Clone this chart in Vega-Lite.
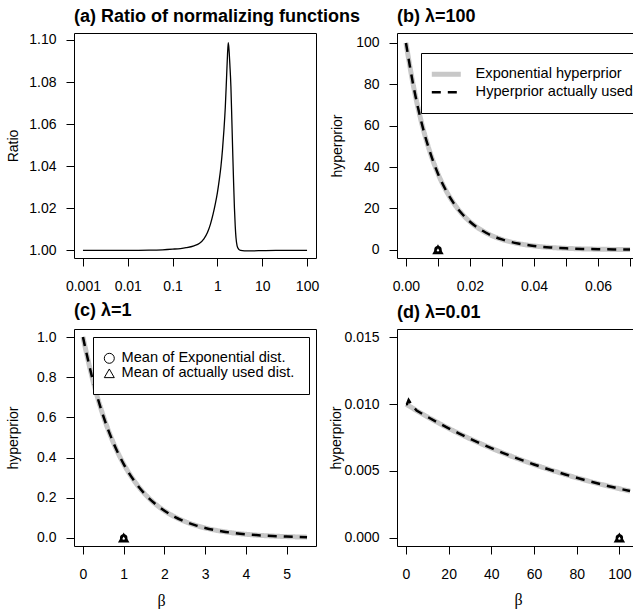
{
  "$schema": "https://vega.github.io/schema/vega-lite/v6.json",
  "autosize": {"type": "pad"},
  "padding": {"left": 5, "top": 7, "right": 0, "bottom": 0},
  "background": "white",
  "columns": 2,
  "spacing": {"row": 71, "column": 81},
  "bounds": "flush",
  "resolve": {
    "scale": {"color": "independent", "strokeDash": "independent", "shape": "independent"},
    "legend": {"color": "independent", "strokeDash": "independent", "shape": "independent"}
  },
  "datasets": {
    "ratio": [
      {"beta": 0.001, "ratio": 1.0}, {"beta": 0.003, "ratio": 1.0}, {"beta": 0.01, "ratio": 1.0},
      {"beta": 0.03, "ratio": 1.0001}, {"beta": 0.06, "ratio": 1.0003}, {"beta": 0.1, "ratio": 1.0006},
      {"beta": 0.15, "ratio": 1.0009}, {"beta": 0.2, "ratio": 1.0013}, {"beta": 0.3, "ratio": 1.0022},
      {"beta": 0.4, "ratio": 1.0034}, {"beta": 0.5, "ratio": 1.0055}, {"beta": 0.6, "ratio": 1.0085},
      {"beta": 0.7, "ratio": 1.0125}, {"beta": 0.8, "ratio": 1.0172}, {"beta": 0.9, "ratio": 1.0222},
      {"beta": 1.0, "ratio": 1.0275}, {"beta": 1.1, "ratio": 1.0335}, {"beta": 1.2, "ratio": 1.04},
      {"beta": 1.3, "ratio": 1.048}, {"beta": 1.4, "ratio": 1.0573}, {"beta": 1.5, "ratio": 1.068},
      {"beta": 1.6, "ratio": 1.082}, {"beta": 1.68, "ratio": 1.093}, {"beta": 1.75, "ratio": 1.0987},
      {"beta": 1.82, "ratio": 1.095}, {"beta": 1.9, "ratio": 1.088}, {"beta": 2.0, "ratio": 1.078},
      {"beta": 2.1, "ratio": 1.062}, {"beta": 2.2, "ratio": 1.046}, {"beta": 2.3, "ratio": 1.032},
      {"beta": 2.4, "ratio": 1.02}, {"beta": 2.5, "ratio": 1.0115}, {"beta": 2.6, "ratio": 1.006},
      {"beta": 2.75, "ratio": 1.0022}, {"beta": 3.0, "ratio": 1.0005}, {"beta": 3.3, "ratio": 1.0},
      {"beta": 4.0, "ratio": 0.9998}, {"beta": 6.0, "ratio": 0.9998}, {"beta": 10, "ratio": 0.9999},
      {"beta": 20, "ratio": 1.0}, {"beta": 50, "ratio": 1.0}, {"beta": 100, "ratio": 1.0}
    ],
    "b_lines": [
      {"beta": 0, "hyperprior": 100, "series": "Exponential hyperprior"},
      {"beta": 0.0025, "hyperprior": 77.88, "series": "Exponential hyperprior"},
      {"beta": 0.005, "hyperprior": 60.65, "series": "Exponential hyperprior"},
      {"beta": 0.0075, "hyperprior": 47.24, "series": "Exponential hyperprior"},
      {"beta": 0.01, "hyperprior": 36.79, "series": "Exponential hyperprior"},
      {"beta": 0.0125, "hyperprior": 28.65, "series": "Exponential hyperprior"},
      {"beta": 0.015, "hyperprior": 22.31, "series": "Exponential hyperprior"},
      {"beta": 0.0175, "hyperprior": 17.38, "series": "Exponential hyperprior"},
      {"beta": 0.02, "hyperprior": 13.53, "series": "Exponential hyperprior"},
      {"beta": 0.025, "hyperprior": 8.21, "series": "Exponential hyperprior"},
      {"beta": 0.03, "hyperprior": 4.98, "series": "Exponential hyperprior"},
      {"beta": 0.035, "hyperprior": 3.02, "series": "Exponential hyperprior"},
      {"beta": 0.04, "hyperprior": 1.83, "series": "Exponential hyperprior"},
      {"beta": 0.045, "hyperprior": 1.11, "series": "Exponential hyperprior"},
      {"beta": 0.05, "hyperprior": 0.674, "series": "Exponential hyperprior"},
      {"beta": 0.055, "hyperprior": 0.409, "series": "Exponential hyperprior"},
      {"beta": 0.06, "hyperprior": 0.248, "series": "Exponential hyperprior"},
      {"beta": 0.065, "hyperprior": 0.15, "series": "Exponential hyperprior"},
      {"beta": 0.07, "hyperprior": 0.091, "series": "Exponential hyperprior"},
      {"beta": 0, "hyperprior": 100, "series": "Hyperprior actually used"},
      {"beta": 0.0025, "hyperprior": 77.88, "series": "Hyperprior actually used"},
      {"beta": 0.005, "hyperprior": 60.65, "series": "Hyperprior actually used"},
      {"beta": 0.0075, "hyperprior": 47.24, "series": "Hyperprior actually used"},
      {"beta": 0.01, "hyperprior": 36.79, "series": "Hyperprior actually used"},
      {"beta": 0.0125, "hyperprior": 28.65, "series": "Hyperprior actually used"},
      {"beta": 0.015, "hyperprior": 22.31, "series": "Hyperprior actually used"},
      {"beta": 0.0175, "hyperprior": 17.38, "series": "Hyperprior actually used"},
      {"beta": 0.02, "hyperprior": 13.53, "series": "Hyperprior actually used"},
      {"beta": 0.025, "hyperprior": 8.21, "series": "Hyperprior actually used"},
      {"beta": 0.03, "hyperprior": 4.98, "series": "Hyperprior actually used"},
      {"beta": 0.035, "hyperprior": 3.02, "series": "Hyperprior actually used"},
      {"beta": 0.04, "hyperprior": 1.83, "series": "Hyperprior actually used"},
      {"beta": 0.045, "hyperprior": 1.11, "series": "Hyperprior actually used"},
      {"beta": 0.05, "hyperprior": 0.674, "series": "Hyperprior actually used"},
      {"beta": 0.055, "hyperprior": 0.409, "series": "Hyperprior actually used"},
      {"beta": 0.06, "hyperprior": 0.248, "series": "Hyperprior actually used"},
      {"beta": 0.065, "hyperprior": 0.15, "series": "Hyperprior actually used"},
      {"beta": 0.07, "hyperprior": 0.091, "series": "Hyperprior actually used"}
    ],
    "c_lines": [
      {"beta": 0, "hyperprior": 1.0, "series": "Exponential hyperprior"},
      {"beta": 0.25, "hyperprior": 0.7788, "series": "Exponential hyperprior"},
      {"beta": 0.5, "hyperprior": 0.6065, "series": "Exponential hyperprior"},
      {"beta": 0.75, "hyperprior": 0.4724, "series": "Exponential hyperprior"},
      {"beta": 1.0, "hyperprior": 0.3679, "series": "Exponential hyperprior"},
      {"beta": 1.25, "hyperprior": 0.2865, "series": "Exponential hyperprior"},
      {"beta": 1.5, "hyperprior": 0.2231, "series": "Exponential hyperprior"},
      {"beta": 1.75, "hyperprior": 0.1738, "series": "Exponential hyperprior"},
      {"beta": 2.0, "hyperprior": 0.1353, "series": "Exponential hyperprior"},
      {"beta": 2.25, "hyperprior": 0.1054, "series": "Exponential hyperprior"},
      {"beta": 2.5, "hyperprior": 0.0821, "series": "Exponential hyperprior"},
      {"beta": 2.75, "hyperprior": 0.0639, "series": "Exponential hyperprior"},
      {"beta": 3.0, "hyperprior": 0.0498, "series": "Exponential hyperprior"},
      {"beta": 3.25, "hyperprior": 0.0388, "series": "Exponential hyperprior"},
      {"beta": 3.5, "hyperprior": 0.0302, "series": "Exponential hyperprior"},
      {"beta": 3.75, "hyperprior": 0.0235, "series": "Exponential hyperprior"},
      {"beta": 4.0, "hyperprior": 0.0183, "series": "Exponential hyperprior"},
      {"beta": 4.25, "hyperprior": 0.0143, "series": "Exponential hyperprior"},
      {"beta": 4.5, "hyperprior": 0.0111, "series": "Exponential hyperprior"},
      {"beta": 4.75, "hyperprior": 0.0087, "series": "Exponential hyperprior"},
      {"beta": 5.0, "hyperprior": 0.0067, "series": "Exponential hyperprior"},
      {"beta": 5.25, "hyperprior": 0.0052, "series": "Exponential hyperprior"},
      {"beta": 5.5, "hyperprior": 0.0041, "series": "Exponential hyperprior"},
      {"beta": 0, "hyperprior": 1.0, "series": "Hyperprior actually used"},
      {"beta": 0.25, "hyperprior": 0.7788, "series": "Hyperprior actually used"},
      {"beta": 0.5, "hyperprior": 0.6065, "series": "Hyperprior actually used"},
      {"beta": 0.75, "hyperprior": 0.4724, "series": "Hyperprior actually used"},
      {"beta": 1.0, "hyperprior": 0.3679, "series": "Hyperprior actually used"},
      {"beta": 1.25, "hyperprior": 0.2865, "series": "Hyperprior actually used"},
      {"beta": 1.5, "hyperprior": 0.2231, "series": "Hyperprior actually used"},
      {"beta": 1.75, "hyperprior": 0.1738, "series": "Hyperprior actually used"},
      {"beta": 2.0, "hyperprior": 0.1353, "series": "Hyperprior actually used"},
      {"beta": 2.25, "hyperprior": 0.1054, "series": "Hyperprior actually used"},
      {"beta": 2.5, "hyperprior": 0.0821, "series": "Hyperprior actually used"},
      {"beta": 2.75, "hyperprior": 0.0639, "series": "Hyperprior actually used"},
      {"beta": 3.0, "hyperprior": 0.0498, "series": "Hyperprior actually used"},
      {"beta": 3.25, "hyperprior": 0.0388, "series": "Hyperprior actually used"},
      {"beta": 3.5, "hyperprior": 0.0302, "series": "Hyperprior actually used"},
      {"beta": 3.75, "hyperprior": 0.0235, "series": "Hyperprior actually used"},
      {"beta": 4.0, "hyperprior": 0.0183, "series": "Hyperprior actually used"},
      {"beta": 4.25, "hyperprior": 0.0143, "series": "Hyperprior actually used"},
      {"beta": 4.5, "hyperprior": 0.0111, "series": "Hyperprior actually used"},
      {"beta": 4.75, "hyperprior": 0.0087, "series": "Hyperprior actually used"},
      {"beta": 5.0, "hyperprior": 0.0067, "series": "Hyperprior actually used"},
      {"beta": 5.25, "hyperprior": 0.0052, "series": "Hyperprior actually used"},
      {"beta": 5.5, "hyperprior": 0.0041, "series": "Hyperprior actually used"}
    ],
    "d_lines": [
      {"beta": 0, "hyperprior": 0.01, "series": "Exponential hyperprior"},
      {"beta": 5, "hyperprior": 0.009512, "series": "Exponential hyperprior"},
      {"beta": 10, "hyperprior": 0.009048, "series": "Exponential hyperprior"},
      {"beta": 15, "hyperprior": 0.008607, "series": "Exponential hyperprior"},
      {"beta": 20, "hyperprior": 0.008187, "series": "Exponential hyperprior"},
      {"beta": 25, "hyperprior": 0.007788, "series": "Exponential hyperprior"},
      {"beta": 30, "hyperprior": 0.007408, "series": "Exponential hyperprior"},
      {"beta": 35, "hyperprior": 0.007047, "series": "Exponential hyperprior"},
      {"beta": 40, "hyperprior": 0.006703, "series": "Exponential hyperprior"},
      {"beta": 45, "hyperprior": 0.006376, "series": "Exponential hyperprior"},
      {"beta": 50, "hyperprior": 0.006065, "series": "Exponential hyperprior"},
      {"beta": 55, "hyperprior": 0.005769, "series": "Exponential hyperprior"},
      {"beta": 60, "hyperprior": 0.005488, "series": "Exponential hyperprior"},
      {"beta": 65, "hyperprior": 0.00522, "series": "Exponential hyperprior"},
      {"beta": 70, "hyperprior": 0.004966, "series": "Exponential hyperprior"},
      {"beta": 75, "hyperprior": 0.004724, "series": "Exponential hyperprior"},
      {"beta": 80, "hyperprior": 0.004493, "series": "Exponential hyperprior"},
      {"beta": 85, "hyperprior": 0.004274, "series": "Exponential hyperprior"},
      {"beta": 90, "hyperprior": 0.004066, "series": "Exponential hyperprior"},
      {"beta": 95, "hyperprior": 0.003867, "series": "Exponential hyperprior"},
      {"beta": 100, "hyperprior": 0.003679, "series": "Exponential hyperprior"},
      {"beta": 105, "hyperprior": 0.003499, "series": "Exponential hyperprior"},
      {"beta": 0, "hyperprior": 0.00999, "series": "Hyperprior actually used"},
      {"beta": 0.5, "hyperprior": 0.01, "series": "Hyperprior actually used"},
      {"beta": 1.25, "hyperprior": 0.0103, "series": "Hyperprior actually used"},
      {"beta": 2.5, "hyperprior": 0.00998, "series": "Hyperprior actually used"},
      {"beta": 5, "hyperprior": 0.009512, "series": "Hyperprior actually used"},
      {"beta": 10, "hyperprior": 0.009048, "series": "Hyperprior actually used"},
      {"beta": 15, "hyperprior": 0.008607, "series": "Hyperprior actually used"},
      {"beta": 20, "hyperprior": 0.008187, "series": "Hyperprior actually used"},
      {"beta": 25, "hyperprior": 0.007788, "series": "Hyperprior actually used"},
      {"beta": 30, "hyperprior": 0.007408, "series": "Hyperprior actually used"},
      {"beta": 35, "hyperprior": 0.007047, "series": "Hyperprior actually used"},
      {"beta": 40, "hyperprior": 0.006703, "series": "Hyperprior actually used"},
      {"beta": 45, "hyperprior": 0.006376, "series": "Hyperprior actually used"},
      {"beta": 50, "hyperprior": 0.006065, "series": "Hyperprior actually used"},
      {"beta": 55, "hyperprior": 0.005769, "series": "Hyperprior actually used"},
      {"beta": 60, "hyperprior": 0.005488, "series": "Hyperprior actually used"},
      {"beta": 65, "hyperprior": 0.00522, "series": "Hyperprior actually used"},
      {"beta": 70, "hyperprior": 0.004966, "series": "Hyperprior actually used"},
      {"beta": 75, "hyperprior": 0.004724, "series": "Hyperprior actually used"},
      {"beta": 80, "hyperprior": 0.004493, "series": "Hyperprior actually used"},
      {"beta": 85, "hyperprior": 0.004274, "series": "Hyperprior actually used"},
      {"beta": 90, "hyperprior": 0.004066, "series": "Hyperprior actually used"},
      {"beta": 95, "hyperprior": 0.003867, "series": "Hyperprior actually used"},
      {"beta": 100, "hyperprior": 0.003679, "series": "Hyperprior actually used"},
      {"beta": 105, "hyperprior": 0.003499, "series": "Hyperprior actually used"}
    ],
    "b_pts": [
      {"beta": 0.01, "hyperprior": 0, "stat": "Mean of Exponential dist."},
      {"beta": 0.01, "hyperprior": 0, "stat": "Mean of actually used dist."}
    ],
    "c_pts": [
      {"beta": 1, "hyperprior": 0, "stat": "Mean of Exponential dist."},
      {"beta": 1, "hyperprior": 0, "stat": "Mean of actually used dist."}
    ],
    "d_pts": [
      {"beta": 100, "hyperprior": 0, "stat": "Mean of Exponential dist."},
      {"beta": 100, "hyperprior": 0, "stat": "Mean of actually used dist."}
    ]
  },
  "concat": [
    {
      "width": 242, "height": 225,
      "title": {"text": "(a) Ratio of normalizing functions"},
      "data": {"name": "ratio"},
      "mark": {"type": "line", "color": "black", "strokeWidth": 1.3, "interpolate": "monotone"},
      "encoding": {
        "x": {"field": "beta", "type": "quantitative",
          "scale": {"type": "log", "domain": [0.000631, 158.5], "nice": false},
          "axis": {"values": [0.001, 0.01, 0.1, 1, 10, 100], "format": "~g", "title": null}},
        "y": {"field": "ratio", "type": "quantitative",
          "scale": {"domain": [0.9964, 1.1033], "nice": false, "zero": false},
          "axis": {"values": [1, 1.02, 1.04, 1.06, 1.08, 1.1], "format": ".2f", "title": "Ratio",
            "titleX": -61, "titleY": 112.5, "titleBaseline": "middle", "titleAlign": "center", "titleAngle": -90}}
      }
    },
    {
      "width": 242, "height": 225,
      "title": {"text": "(b) λ=100"},
      "encoding": {
        "x": {"field": "beta", "type": "quantitative",
          "scale": {"domain": [-0.0028, 0.0728], "nice": false, "zero": false},
          "axis": {"values": [0, 0.01, 0.02, 0.03, 0.04, 0.05, 0.06, 0.07],
            "labelExpr": "round(datum.value*100) % 2 == 0 ? format(datum.value, '.2f') : ''", "title": null}},
        "y": {"field": "hyperprior", "type": "quantitative",
          "scale": {"domain": [-4, 104.8], "nice": false, "zero": false},
          "axis": {"values": [0, 20, 40, 60, 80, 100], "title": "hyperprior",
            "titleX": -60, "titleY": 112.5, "titleBaseline": "middle", "titleAlign": "center", "titleAngle": -90}}
      },
      "layer": [
        {
          "data": {"name": "b_lines"},
          "transform": [{"filter": {"field": "series", "equal": "Exponential hyperprior"}}],
          "mark": {"type": "line", "strokeWidth": 5, "interpolate": "monotone"},
          "encoding": {
            "color": {"field": "series", "type": "nominal",
              "scale": {"domain": ["Exponential hyperprior", "Hyperprior actually used"], "range": ["#c8c8c8", "#000000"]},
              "legend": {"orient": "none", "legendX": 24, "legendY": 20, "title": null, "strokeColor": "black", "fillColor": "white",
                "padding": 14, "rowPadding": -2, "symbolType": "stroke", "symbolSize": 841, "symbolOffset": 4, "labelFontSize": 14.6, "labelOffset": 22, "labelLimit": 400,
                "encode": {"symbols": {"update": {"strokeWidth": {"signal": "datum.value === 'Exponential hyperprior' ? 5 : 2.5"}}}}}},
            "strokeDash": {"field": "series", "type": "nominal",
              "scale": {"domain": ["Exponential hyperprior", "Hyperprior actually used"], "range": [[1, 0], [9, 7]]},
              "legend": {"orient": "none", "legendX": 24, "legendY": 20, "title": null, "strokeColor": "black", "fillColor": "white",
                "padding": 14, "rowPadding": -2, "symbolType": "stroke", "symbolSize": 841, "symbolOffset": 4, "labelFontSize": 14.6, "labelOffset": 22, "labelLimit": 400,
                "encode": {"symbols": {"update": {"strokeWidth": {"signal": "datum.value === 'Exponential hyperprior' ? 5 : 2.5"}}}}}}
          }
        },
        {
          "data": {"name": "b_lines"},
          "transform": [{"filter": {"field": "series", "equal": "Hyperprior actually used"}}],
          "mark": {"type": "line", "strokeWidth": 2.5, "interpolate": "monotone"},
          "encoding": {
            "color": {"field": "series", "type": "nominal"},
            "strokeDash": {"field": "series", "type": "nominal"}
          }
        },
        {
          "data": {"name": "b_pts"},
          "mark": {"type": "point", "filled": false, "color": "black", "strokeWidth": 2, "opacity": 1},
          "encoding": {
            "shape": {"field": "stat", "type": "nominal",
              "scale": {"domain": ["Mean of Exponential dist.", "Mean of actually used dist."], "range": ["circle", "triangle-up"]},
              "legend": null},
            "size": {"condition": {"test": "datum.stat === 'Mean of actually used dist.'", "value": 64}, "value": 30}
          }
        }
      ]
    },
    {
      "width": 242, "height": 217,
      "title": {"text": "(c) λ=1"},
      "encoding": {
        "x": {"field": "beta", "type": "quantitative",
          "scale": {"domain": [-0.22, 5.72], "nice": false, "zero": false},
          "axis": {"values": [0, 1, 2, 3, 4, 5], "title": "β", "titleFont": "Liberation Serif", "titleFontSize": 16,
            "titleX": 87, "titleY": 54, "titleBaseline": "middle", "titleAlign": "center"}},
        "y": {"field": "hyperprior", "type": "quantitative",
          "scale": {"domain": [-0.04, 1.04], "nice": false, "zero": false},
          "axis": {"values": [0, 0.2, 0.4, 0.6, 0.8, 1.0], "format": ".1f", "title": "hyperprior",
            "titleX": -61, "titleY": 108.5, "titleBaseline": "middle", "titleAlign": "center", "titleAngle": -90}}
      },
      "layer": [
        {
          "data": {"name": "c_lines"},
          "transform": [{"filter": {"field": "series", "equal": "Exponential hyperprior"}}],
          "mark": {"type": "line", "strokeWidth": 5, "interpolate": "monotone"},
          "encoding": {
            "color": {"field": "series", "type": "nominal",
              "scale": {"domain": ["Exponential hyperprior", "Hyperprior actually used"], "range": ["#c8c8c8", "#000000"]}, "legend": null},
            "strokeDash": {"field": "series", "type": "nominal",
              "scale": {"domain": ["Exponential hyperprior", "Hyperprior actually used"], "range": [[1, 0], [9, 7]]}, "legend": null}
          }
        },
        {
          "data": {"name": "c_lines"},
          "transform": [{"filter": {"field": "series", "equal": "Hyperprior actually used"}}],
          "mark": {"type": "line", "strokeWidth": 2.5, "interpolate": "monotone"},
          "encoding": {
            "color": {"field": "series", "type": "nominal", "legend": null},
            "strokeDash": {"field": "series", "type": "nominal", "legend": null}
          }
        },
        {
          "data": {"name": "c_pts"},
          "mark": {"type": "point", "filled": false, "color": "black", "strokeWidth": 2, "opacity": 1},
          "encoding": {
            "shape": {"field": "stat", "type": "nominal",
              "scale": {"domain": ["Mean of Exponential dist.", "Mean of actually used dist."], "range": ["circle", "triangle-up"]},
              "legend": {"orient": "none", "legendX": 19, "legendY": 8, "title": null, "strokeColor": "black", "fillColor": "white",
                "padding": 14, "rowPadding": -1, "labelFontSize": 14.6, "labelOffset": 5, "labelLimit": 400, "symbolOffset": -5,
                "symbolStrokeColor": "black", "symbolFillColor": "transparent", "symbolStrokeWidth": 1,
                "encode": {"symbols": {"update": {"size": {"signal": "datum.value === 'Mean of Exponential dist.' ? 30 : 64"}, "strokeWidth": {"value": 1}}}}}},
            "size": {"condition": {"test": "datum.stat === 'Mean of actually used dist.'", "value": 64}, "value": 30}
          }
        }
      ]
    },
    {
      "width": 242, "height": 217,
      "title": {"text": "(d) λ=0.01"},
      "encoding": {
        "x": {"field": "beta", "type": "quantitative",
          "scale": {"domain": [-4.2, 109.2], "nice": false, "zero": false},
          "axis": {"values": [0, 20, 40, 60, 80, 100], "title": "β", "titleFont": "Liberation Serif", "titleFontSize": 16,
            "titleX": 121, "titleY": 53, "titleBaseline": "middle", "titleAlign": "center"}},
        "y": {"field": "hyperprior", "type": "quantitative",
          "scale": {"domain": [-0.0006, 0.0156], "nice": false, "zero": false},
          "axis": {"values": [0, 0.005, 0.01, 0.015], "format": ".3f", "title": "hyperprior",
            "titleX": -61, "titleY": 108.5, "titleBaseline": "middle", "titleAlign": "center", "titleAngle": -90}}
      },
      "layer": [
        {
          "data": {"name": "d_lines"},
          "transform": [{"filter": {"field": "series", "equal": "Exponential hyperprior"}}],
          "mark": {"type": "line", "strokeWidth": 5, "interpolate": "monotone"},
          "encoding": {
            "color": {"field": "series", "type": "nominal",
              "scale": {"domain": ["Exponential hyperprior", "Hyperprior actually used"], "range": ["#c8c8c8", "#000000"]}, "legend": null},
            "strokeDash": {"field": "series", "type": "nominal",
              "scale": {"domain": ["Exponential hyperprior", "Hyperprior actually used"], "range": [[1, 0], [9, 7]]}, "legend": null}
          }
        },
        {
          "data": {"name": "d_lines"},
          "transform": [{"filter": {"field": "series", "equal": "Hyperprior actually used"}}],
          "mark": {"type": "line", "strokeWidth": 2.5, "interpolate": "linear"},
          "encoding": {
            "color": {"field": "series", "type": "nominal", "legend": null},
            "strokeDash": {"field": "series", "type": "nominal", "legend": null}
          }
        },
        {
          "data": {"name": "d_pts"},
          "mark": {"type": "point", "filled": false, "color": "black", "strokeWidth": 2, "opacity": 1},
          "encoding": {
            "shape": {"field": "stat", "type": "nominal",
              "scale": {"domain": ["Mean of Exponential dist.", "Mean of actually used dist."], "range": ["circle", "triangle-up"]},
              "legend": null},
            "size": {"condition": {"test": "datum.stat === 'Mean of actually used dist.'", "value": 64}, "value": 30}
          }
        }
      ]
    }
  ],
  "config": {
    "font": "Liberation Sans",
    "view": {"stroke": "black", "strokeWidth": 1},
    "axis": {
      "grid": false, "domain": false, "ticks": true, "tickColor": "black", "tickSize": 8, "tickWidth": 1,
      "labelColor": "black", "labelFontSize": 14, "labelFont": "Liberation Sans",
      "titleFont": "Liberation Sans", "titleFontSize": 14, "titleFontWeight": "normal", "titleColor": "black",
      "labelFlush": false, "labelOverlap": false
    },
    "axisX": {"labelPadding": 13, "labelAngle": 0},
    "axisY": {"labelPadding": 10, "labelAngle": 0},
    "title": {"fontSize": 18, "fontWeight": "bold", "anchor": "start", "frame": "group", "color": "black", "offset": 7, "baseline": "alphabetic", "font": "Liberation Sans"},
    "legend": {"labelFont": "Liberation Sans", "labelColor": "black", "labelFontSize": 14.6, "cornerRadius": 0, "strokeWidth": 1}
  }
}
